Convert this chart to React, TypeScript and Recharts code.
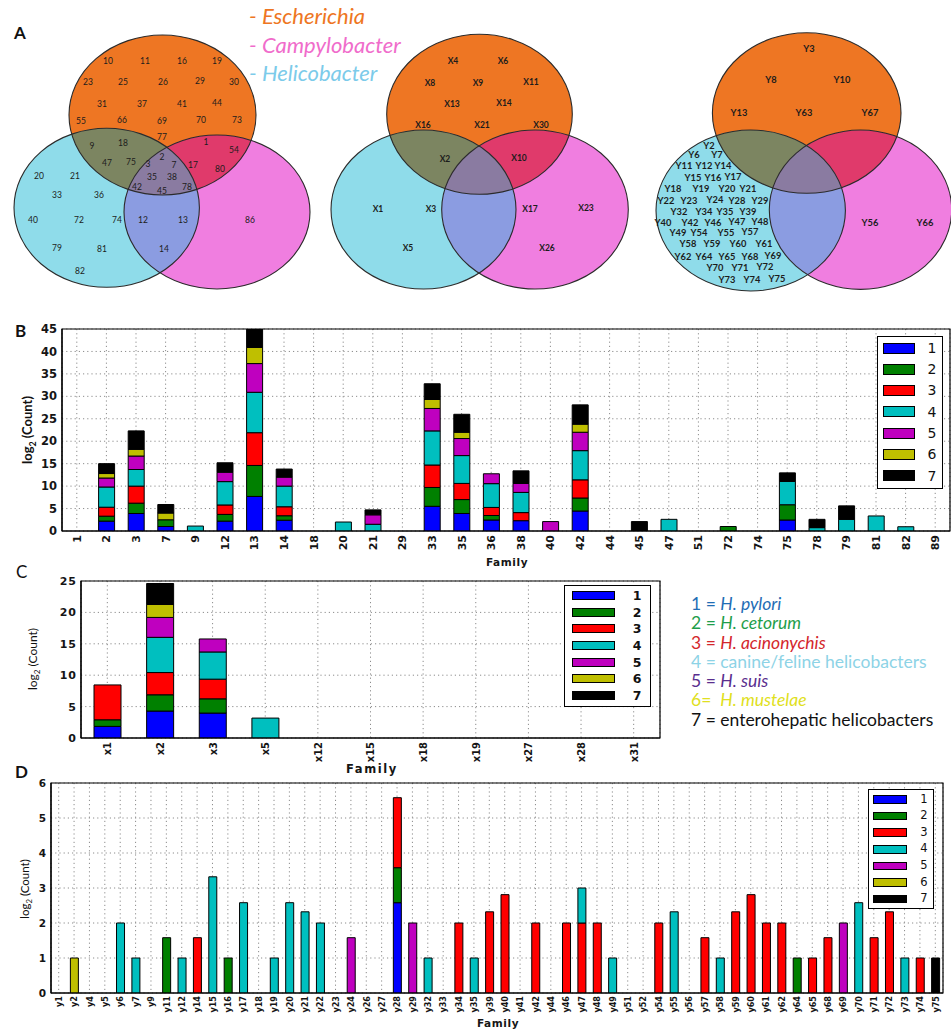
import React from 'react';
import { BarChart, Bar, XAxis, YAxis, CartesianGrid, ReferenceArea, ScatterChart, Scatter } from 'recharts';

// ---------------- shared series ----------------
const seriesNames = ['1', '2', '3', '4', '5', '6', '7'];
const seriesColors = ['#0000FF', '#008000', '#FF0000', '#00BFBF', '#BF00BF', '#BFBF00', '#000000'];

// ---------------- Panel B ----------------
const familiesB = ['1', '2', '3', '7', '9', '12', '13', '14', '18', '20', '21', '29', '33', '35', '36', '38', '40', '42', '44', '45', '47', '51', '72', '74', '75', '78', '79', '81', '82', '89'];
const b1 = [0, 2.2, 3.9, 1.0, 0, 2.2, 7.7, 2.4, 0, 0,
  0, 0, 5.5, 3.9, 2.45, 2.3, 0, 4.45, 0, 0,
  0, 0, 0, 0, 2.45, 0, 0, 0, 0, 0];
const b2 = [0, 1.1, 2.3, 1.5, 0, 1.5, 6.9, 1.0, 0, 0,
  0, 0, 4.2, 3.1, 1.0, 0, 0, 2.9, 0, 0,
  0, 0, 1.0, 0, 3.4, 0, 0, 0, 0, 0];
const b3 = [0, 2.0, 3.8, 0, 0, 2.1, 7.3, 2.0, 0, 0,
  0, 0, 5.0, 3.6, 1.8, 1.8, 0, 4.05, 0, 0,
  0, 0, 0, 0, 0, 0, 0, 0, 0, 0];
const b4 = [0, 4.5, 3.7, 0, 1.1, 5.2, 9.0, 4.6, 0, 2.0,
  1.5, 0, 7.6, 6.2, 5.3, 4.5, 0, 6.5, 0, 0,
  2.6, 0, 0, 0, 5.2, 0.75, 2.6, 3.35, 0.95, 0];
const b5 = [0, 2.0, 3.0, 0, 0, 2.1, 6.4, 2.0, 0, 0,
  2.1, 0, 5.0, 3.8, 2.2, 2.0, 2.1, 4.1, 0, 0,
  0, 0, 0, 0, 0, 0, 0, 0, 0, 0];
const b6 = [0, 1.0, 1.5, 1.5, 0, 0, 3.6, 0, 0, 0,
  0, 0, 2.0, 1.4, 0, 0, 0, 1.8, 0, 0,
  0, 0, 0, 0, 0, 0, 0, 0, 0, 0];
const b7 = [0, 2.2, 4.1, 1.9, 0, 2.1, 4.1, 1.8, 0, 0,
  1.1, 0, 3.5, 4.0, 0, 2.8, 0, 4.3, 0, 2.1,
  0, 0, 0, 0, 1.9, 1.85, 3.0, 0, 0, 0];
const ticksB = [0, 5, 10, 15, 20, 25, 30, 35, 40, 45];

// ---------------- Panel C ----------------
const familiesC = ['x1', 'x2', 'x3', 'x5', 'x12', 'x15', 'x18', 'x19', 'x27', 'x28', 'x31'];
const c1 = [1.85, 4.29, 3.97, 0, 0, 0, 0, 0, 0, 0, 0];
const c2 = [1.05, 2.59, 2.27, 0, 0, 0, 0, 0, 0, 0, 0];
const c3 = [5.55, 3.54, 3.13, 0, 0, 0, 0, 0, 0, 0, 0];
const c4 = [0, 5.61, 4.33, 3.17, 0, 0, 0, 0, 0, 0, 0];
const c5 = [0, 3.17, 2.07, 0, 0, 0, 0, 0, 0, 0, 0];
const c6 = [0, 2.07, 0, 0, 0, 0, 0, 0, 0, 0, 0];
const c7 = [0, 3.33, 0, 0, 0, 0, 0, 0, 0, 0, 0];
const ticksC = [0, 5, 10, 15, 20, 25];

// ---------------- Panel D ----------------
const familiesD = ['y1', 'y2', 'y4', 'y5', 'y6', 'y7', 'y9', 'y11', 'y12', 'y14',
  'y15', 'y16', 'y17', 'y18', 'y19', 'y20', 'y21', 'y22', 'y23', 'y24',
  'y26', 'y27', 'y28', 'y29', 'y32', 'y33', 'y34', 'y35', 'y39', 'y40',
  'y41', 'y42', 'y44', 'y46', 'y47', 'y48', 'y49', 'y51', 'y52', 'y54',
  'y55', 'y56', 'y57', 'y58', 'y59', 'y60', 'y61', 'y62', 'y64', 'y65',
  'y68', 'y69', 'y70', 'y71', 'y72', 'y73', 'y74', 'y75'];
const d1 = [0, 0, 0, 0, 0, 0, 0, 0, 0, 0,
  0, 0, 0, 0, 0, 0, 0, 0, 0, 0,
  0, 0, 2.58, 0, 0, 0, 0, 0, 0, 0,
  0, 0, 0, 0, 0, 0, 0, 0, 0, 0,
  0, 0, 0, 0, 0, 0, 0, 0, 0, 0,
  0, 0, 0, 0, 0, 0, 0, 0];
const d2 = [0, 0, 0, 0, 0, 0, 0, 1.58, 0, 0,
  0, 1, 0, 0, 0, 0, 0, 0, 0, 0,
  0, 0, 1, 0, 0, 0, 0, 0, 0, 0,
  0, 0, 0, 0, 0, 0, 0, 0, 0, 0,
  0, 0, 0, 0, 0, 0, 0, 0, 1, 0,
  0, 0, 0, 0, 0, 0, 0, 0];
const d3 = [0, 0, 0, 0, 0, 0, 0, 0, 0, 1.58,
  0, 0, 0, 0, 0, 0, 0, 0, 0, 0,
  0, 0, 2, 0, 0, 0, 2, 0, 2.32, 2.81,
  0, 2, 0, 2, 2, 2, 0, 0, 0, 2,
  0, 0, 1.58, 0, 2.32, 2.81, 2, 2, 0, 1,
  1.58, 0, 0, 1.58, 2.32, 0, 1, 0];
const d4 = [0, 0, 0, 0, 2, 1, 0, 0, 1, 0,
  3.32, 0, 2.58, 0, 1, 2.58, 2.32, 2, 0, 0,
  0, 0, 0, 0, 1, 0, 0, 1, 0, 0,
  0, 0, 0, 0, 1, 0, 1, 0, 0, 0,
  2.32, 0, 0, 1, 0, 0, 0, 0, 0, 0,
  0, 0, 2.58, 0, 0, 1, 0, 0];
const d5 = [0, 0, 0, 0, 0, 0, 0, 0, 0, 0,
  0, 0, 0, 0, 0, 0, 0, 0, 0, 1.58,
  0, 0, 0, 2, 0, 0, 0, 0, 0, 0,
  0, 0, 0, 0, 0, 0, 0, 0, 0, 0,
  0, 0, 0, 0, 0, 0, 0, 0, 0, 0,
  0, 2, 0, 0, 0, 0, 0, 0];
const d6 = [0, 1, 0, 0, 0, 0, 0, 0, 0, 0,
  0, 0, 0, 0, 0, 0, 0, 0, 0, 0,
  0, 0, 0, 0, 0, 0, 0, 0, 0, 0,
  0, 0, 0, 0, 0, 0, 0, 0, 0, 0,
  0, 0, 0, 0, 0, 0, 0, 0, 0, 0,
  0, 0, 0, 0, 0, 0, 0, 0];
const d7 = [0, 0, 0, 0, 0, 0, 0, 0, 0, 0,
  0, 0, 0, 0, 0, 0, 0, 0, 0, 0,
  0, 0, 0, 0, 0, 0, 0, 0, 0, 0,
  0, 0, 0, 0, 0, 0, 0, 0, 0, 0,
  0, 0, 0, 0, 0, 0, 0, 0, 0, 0,
  0, 0, 0, 0, 0, 0, 0, 1];
const ticksD = [0, 1, 2, 3, 4, 5, 6];

// ---------------- Panel A (Venn) ----------------
const vennSetNames = ['Escherichia', 'Campylobacter', 'Helicobacter'];
const vennSetColors: Record<string, string> = { E: '#EE7623', H: '#8FDCEA', C: '#F07EE0' };
const vennOverlapColors = { EH: '#7C8561', EC: '#E03A6B', HC: '#8B9CE1', EHC: '#8A7BA1' };
const vennLegendColors = ['#EE7623', '#F06CCB', '#7CCBEA'];

// Venn layout (chart units == pixels of the 951x300 panel)
const vennEllipseLayout = [
  { venn: 1, set: 'E', x: 162.5, y: 115, rx: 93.5, ry: 80 },
  { venn: 1, set: 'H', x: 106.7, y: 207.8, rx: 92.7, ry: 79.5 },
  { venn: 1, set: 'C', x: 217, y: 212, rx: 93, ry: 77 },
  { venn: 2, set: 'E', x: 479.5, y: 114.3, rx: 92.8, ry: 80 },
  { venn: 2, set: 'H', x: 423.5, y: 209.5, rx: 92.5, ry: 79.5 },
  { venn: 2, set: 'C', x: 535, y: 209.5, rx: 93.3, ry: 79.5 },
  { venn: 3, set: 'E', x: 806.7, y: 113, rx: 94.3, ry: 80.3 },
  { venn: 3, set: 'H', x: 750.7, y: 210.5, rx: 94.7, ry: 80.5 },
  { venn: 3, set: 'C', x: 860.5, y: 209.7, rx: 91.2, ry: 79.7 },
];

const venn1Labels: [string, number, number][] = [
  ['10', 108, 61], ['11', 145, 61], ['16', 182, 61], ['19', 217, 61],
  ['23', 88, 82], ['25', 123, 82], ['26', 163, 82], ['29', 200, 81], ['30', 234, 82],
  ['31', 102, 104], ['37', 142, 104], ['41', 182, 104], ['44', 217, 103],
  ['55', 81, 121], ['66', 122, 120], ['69', 162, 121], ['70', 201, 120], ['73', 237, 120],
  ['77', 162, 137],
  ['1', 206, 142], ['54', 234, 150], ['17', 193, 165], ['80', 220, 169],
  ['9', 92, 146], ['18', 123, 143], ['47', 107, 163], ['75', 131, 162],
  ['2', 162, 157], ['3', 148, 164], ['7', 174, 165], ['35', 152, 177], ['38', 172, 177],
  ['42', 137, 187], ['45', 162, 191], ['78', 187, 187],
  ['20', 39, 176], ['21', 75, 176], ['33', 57, 195], ['36', 99, 195], ['40', 33, 220],
  ['72', 79, 220], ['74', 117, 220], ['79', 57, 248], ['81', 102, 249], ['82', 80, 271],
  ['12', 143, 220], ['13', 183, 220], ['14', 164, 249],
  ['86', 250, 220],
];
const venn2Labels: [string, number, number][] = [
  ['X4', 453, 61], ['X6', 503, 61], ['X8', 430, 83], ['X9', 478, 83], ['X11', 531, 82],
  ['X13', 452, 104], ['X14', 504, 103], ['X16', 423, 125], ['X21', 482, 125], ['X30', 541, 125],
  ['X2', 445, 159], ['X10', 519, 158],
  ['X1', 378, 209], ['X3', 431, 209], ['X5', 408, 248],
  ['X17', 530, 209], ['X23', 586, 208], ['X26', 547, 248],
];
const venn3Labels: [string, number, number][] = [
  ['Y3', 809, 48], ['Y8', 771, 79], ['Y10', 842, 79], ['Y13', 739, 112], ['Y63', 804, 112], ['Y67', 870, 112],
  ['Y56', 870, 222], ['Y66', 925, 222],
  ['Y2', 709, 145],
  ['Y6', 694, 154], ['Y7', 717, 154],
  ['Y11', 684, 165], ['Y12', 704, 165], ['Y14', 723, 165],
  ['Y15', 693, 177], ['Y16', 713, 177], ['Y17', 733, 176],
  ['Y18', 673, 188], ['Y19', 701, 188], ['Y20', 727, 188], ['Y21', 748, 188],
  ['Y22', 666, 200], ['Y23', 689, 200], ['Y24', 715, 199], ['Y28', 737, 200], ['Y29', 760, 200],
  ['Y32', 679, 211], ['Y34', 704, 211], ['Y35', 725, 211], ['Y39', 748, 211],
  ['Y40', 663, 222], ['Y42', 690, 222], ['Y46', 713, 222], ['Y47', 737, 221], ['Y48', 760, 221],
  ['Y49', 678, 232], ['Y54', 699, 232], ['Y55', 726, 232], ['Y57', 750, 231],
  ['Y58', 688, 243], ['Y59', 712, 243], ['Y60', 738, 243], ['Y61', 764, 243],
  ['Y62', 683, 256], ['Y64', 704, 256], ['Y65', 727, 256], ['Y68', 750, 256], ['Y69', 773, 255],
  ['Y70', 715, 267], ['Y71', 740, 267], ['Y72', 765, 266],
  ['Y73', 727, 279], ['Y74', 752, 279], ['Y75', 777, 278],
];

// species key (panel C)
const speciesKey = [
  { num: '1 = ', name: 'H. pylori', italic: true, color: '#1F6DB5' },
  { num: '2 = ', name: 'H. cetorum', italic: true, color: '#1E9E4A' },
  { num: '3 = ', name: 'H. acinonychis', italic: true, color: '#D4262C' },
  { num: '4 = ', name: 'canine/feline helicobacters', italic: false, color: '#8DD3E6' },
  { num: '5 = ', name: 'H. suis', italic: true, color: '#5A2E8E' },
  { num: '6=  ', name: 'H. mustelae', italic: true, color: '#E0E020' },
  { num: '7 = ', name: 'enterohepatic helicobacters', italic: false, color: '#111111' },
];

// ---------------- helpers ----------------
function buildRows(cats: string[], series: number[][]) {
  return cats.map((c, i) => {
    const r: any = { family: c };
    series.forEach((s, k) => { r['s' + (k + 1)] = s[i]; });
    return r;
  });
}
const rowsB = buildRows(familiesB, [b1, b2, b3, b4, b5, b6, b7]);
const rowsC = buildRows(familiesC, [c1, c2, c3, c4, c5, c6, c7]);
const rowsD = buildRows(familiesD, [d1, d2, d3, d4, d5, d6, d7]);

const VENN_W = 951;
const VENN_H = 300;
const KX = VENN_W / 951;
const KY = VENN_H / 300;

const vennLabelStyle: Record<number, any> = {
  1: { fontSize: 8.5, fontWeight: 'normal' },
  2: { fontSize: 8.5, fontWeight: 'bold' },
  3: { fontSize: 9.3, fontWeight: 'bold' },
};
const vennLabelData = [
  ...venn1Labels.map(([t, x, y]) => ({ t, x, y, venn: 1 })),
  ...venn2Labels.map(([t, x, y]) => ({ t, x, y, venn: 2 })),
  ...venn3Labels.map(([t, x, y]) => ({ t, x, y, venn: 3 })),
];

function findEll(v: number, s: string) {
  return vennEllipseLayout.find((e) => e.venn === v && e.set === s) as any;
}
const vennOverlapData: any[] = [];
[1, 2, 3].forEach((v) => {
  const h = findEll(v, 'H');
  const c = findEll(v, 'C');
  vennOverlapData.push({ ...h, clips: ['E' + v], color: vennOverlapColors.EH });
  vennOverlapData.push({ ...c, clips: ['E' + v], color: vennOverlapColors.EC });
  vennOverlapData.push({ ...c, clips: ['H' + v], color: vennOverlapColors.HC });
  vennOverlapData.push({ ...c, clips: ['E' + v, 'H' + v], color: vennOverlapColors.EHC });
});

const EllipseFill = (p: any) => {
  const d = p.payload;
  const id = `vclip-${d.set}${d.venn}`;
  return (
    <g>
      <defs>
        <clipPath id={id}>
          <ellipse cx={p.cx} cy={p.cy} rx={d.rx * KX} ry={d.ry * KY} />
        </clipPath>
      </defs>
      <ellipse cx={p.cx} cy={p.cy} rx={d.rx * KX} ry={d.ry * KY} fill={vennSetColors[d.set]} />
    </g>
  );
};
const EllipseOverlap = (p: any) => {
  const d = p.payload;
  const inner = (
    <ellipse cx={p.cx} cy={p.cy} rx={d.rx * KX} ry={d.ry * KY} fill={d.color}
      clipPath={`url(#vclip-${d.clips[d.clips.length - 1]})`} />
  );
  if (d.clips.length > 1) return <g clipPath={`url(#vclip-${d.clips[0]})`}>{inner}</g>;
  return <g>{inner}</g>;
};
const EllipseOutline = (p: any) => {
  const d = p.payload;
  return <ellipse cx={p.cx} cy={p.cy} rx={d.rx * KX} ry={d.ry * KY} fill="none" stroke="#2b2b2b" strokeWidth={1.1} />;
};
const VennLabel = (p: any) => {
  const d = p.payload;
  const st = vennLabelStyle[d.venn];
  return (
    <text x={p.cx} y={p.cy} textAnchor="middle" dominantBaseline="central" fontFamily="Lato"
      fontSize={st.fontSize} fontWeight={st.fontWeight} fill="#1c1c1c">{d.t}</text>
  );
};

const RotTick = (p: any) => {
  const { x, y, payload, fs, condensed } = p;
  return (
    <text x={x} y={y} transform={`rotate(-90 ${x} ${y})`} textAnchor="end" dy="0.36em"
      fontFamily="DejaVu Sans" fontSize={fs} fontWeight="bold" fill="#151515"
      style={condensed ? { fontStretch: 'condensed' } : undefined}>{payload.value}</text>
  );
};

function SwatchLegend(props: any) {
  const { left, top, width, height, firstRow, rowGap, swLeft, swW, swH, labelX, fontSize, fontWeight } = props;
  return (
    <div style={{ position: 'absolute', left, top, width, height, border: '1.5px solid #000', background: '#fff', boxSizing: 'border-box' }}>
      {seriesNames.map((n, i) => (
        <React.Fragment key={n}>
          <div style={{ position: 'absolute', left: swLeft, top: firstRow + i * rowGap - swH / 2, width: swW, height: swH, background: seriesColors[i], border: '1px solid #000', boxSizing: 'border-box' }} />
          <div style={{ position: 'absolute', left: labelX - 10, width: 20, textAlign: 'center', top: firstRow + i * rowGap - fontSize * 0.6, fontSize, lineHeight: `${fontSize * 1.2}px`, fontFamily: 'DejaVu Sans', fontWeight, color: '#111' }}>{n}</div>
        </React.Fragment>
      ))}
    </div>
  );
}

function YTitle({ x, y, fs, weight }: any) {
  return (
    <text transform={`translate(${x},${y}) rotate(-90)`} textAnchor="middle" fontFamily="Lato" fontSize={fs} fontWeight={weight} fill="#111">
      log<tspan fontSize={fs * 0.68} dy={fs * 0.28}>2</tspan><tspan dy={-fs * 0.28}> (Count)</tspan>
    </text>
  );
}

function StackBars() {
  return seriesNames.map((n, k) => (
    <Bar key={n} dataKey={'s' + (k + 1)} name={n} stackId="a" fill={seriesColors[k]} stroke="#000" strokeWidth={1} isAnimationActive={false} />
  ));
}

const gridStroke = '#8c8c8c';

export default function App() {
  return (
    <div style={{ position: 'absolute', left: 0, top: 0, width: 951, height: 1030, background: '#fff', overflow: 'hidden' }}>
      {/* Panel A: Venn diagrams */}
      <div style={{ position: 'absolute', left: 0, top: 0 }}>
        <ScatterChart width={VENN_W} height={VENN_H} margin={{ top: 0, right: 0, bottom: 0, left: 0 }}>
          <XAxis type="number" dataKey="x" domain={[0, 951]} hide height={0} allowDataOverflow />
          <YAxis type="number" dataKey="y" domain={[0, 300]} reversed hide width={0} allowDataOverflow />
          <Scatter data={vennEllipseLayout} shape={EllipseFill} isAnimationActive={false} />
          <Scatter data={vennOverlapData} shape={EllipseOverlap} isAnimationActive={false} />
          <Scatter data={vennEllipseLayout} shape={EllipseOutline} isAnimationActive={false} />
          <Scatter data={vennLabelData} shape={VennLabel} isAnimationActive={false} />
        </ScatterChart>
      </div>

      {/* Panel B */}
      <div style={{ position: 'absolute', left: 0, top: 300 }}>
        <BarChart width={951} height={270} data={rowsB} margin={{ top: 29, right: 1, bottom: 11, left: 22 }} barSize={16}>
          <CartesianGrid stroke={gridStroke} strokeDasharray="1.2 3" />
          <XAxis dataKey="family" interval={0} height={28} tickSize={0} tickMargin={4} axisLine={{ stroke: '#000', strokeWidth: 1.2 }} tickLine={false}
            tick={(p: any) => <RotTick {...p} fs={11} />} />
          <YAxis domain={[0, 45]} ticks={ticksB} interval={0} width={40} tickSize={0} tickMargin={5} axisLine={{ stroke: '#000', strokeWidth: 1.2 }} tickLine={false}
            tick={{ fontSize: 11.5, fontFamily: 'DejaVu Sans', fontWeight: 'bold', fill: '#151515' }} allowDataOverflow />
          {StackBars()}
          <ReferenceArea y1={0} y2={45} fill="none" stroke="#000" strokeWidth={1.2} ifOverflow="visible" />
        </BarChart>
      </div>
      <SwatchLegend left={877} top={336} width={66} height={153} firstRow={11} rowGap={21.33} swLeft={5} swW={32} swH={11} labelX={54} fontSize={14} fontWeight="normal" />

      {/* Panel C */}
      <div style={{ position: 'absolute', left: 0, top: 560 }}>
        <BarChart width={662} height={210} data={rowsC} margin={{ top: 21, right: 2, bottom: 2, left: 41 }} barSize={27}>
          <CartesianGrid stroke={gridStroke} strokeDasharray="1.2 3" />
          <XAxis dataKey="family" interval={0} height={30} tickSize={0} tickMargin={4} axisLine={{ stroke: '#000', strokeWidth: 1.2 }} tickLine={false}
            tick={(p: any) => <RotTick {...p} fs={11} condensed />} />
          <YAxis domain={[0, 25]} ticks={ticksC} interval={0} width={40} tickSize={0} tickMargin={4} axisLine={{ stroke: '#000', strokeWidth: 1.2 }} tickLine={false}
            tick={{ fontSize: 11, fontFamily: 'DejaVu Sans', fontWeight: 'bold', fill: '#151515', letterSpacing: 1 }} allowDataOverflow />
          {StackBars()}
          <ReferenceArea y1={0} y2={25} fill="none" stroke="#000" strokeWidth={1.2} ifOverflow="visible" />
        </BarChart>
      </div>
      <SwatchLegend left={564} top={585} width={87} height={122} firstRow={9.5} rowGap={16.67} swLeft={7} swW={43} swH={9} labelX={72} fontSize={12.5} fontWeight="bold" />
      <div style={{ position: 'absolute', left: 691, top: 594, fontFamily: 'Lato', fontSize: 17.5, lineHeight: '19.3px', whiteSpace: 'nowrap' }}>
        {speciesKey.map((s) => (
          <div key={s.num} style={{ color: s.color }}>
            <span style={{ whiteSpace: 'pre' }}>{s.num}</span>
            <span style={{ fontStyle: s.italic ? 'italic' : 'normal' }}>{s.name}</span>
          </div>
        ))}
      </div>

      {/* Panel D */}
      <div style={{ position: 'absolute', left: 0, top: 770 }}>
        <BarChart width={951} height={260} data={rowsD} margin={{ top: 13, right: 8, bottom: 11, left: 15 }} barSize={8}>
          <CartesianGrid stroke={gridStroke} strokeDasharray="1.2 3" />
          <XAxis dataKey="family" interval={0} height={26} tickSize={0} tickMargin={3} axisLine={{ stroke: '#000', strokeWidth: 1.2 }} tickLine={false}
            tick={(p: any) => <RotTick {...p} fs={9} condensed />} />
          <YAxis domain={[0, 6]} ticks={ticksD} interval={0} width={36} tickSize={0} tickMargin={5} axisLine={{ stroke: '#000', strokeWidth: 1.2 }} tickLine={false}
            tick={{ fontSize: 10.5, fontFamily: 'DejaVu Sans', fontWeight: 'bold', fill: '#151515' }} allowDataOverflow />
          {StackBars()}
          <ReferenceArea y1={0} y2={6} fill="none" stroke="#000" strokeWidth={1.2} ifOverflow="visible" />
        </BarChart>
      </div>
      <SwatchLegend left={868} top={789} width={66} height={120} firstRow={9.5} rowGap={16.6} swLeft={4} swW={34} swH={8.5} labelX={55} fontSize={11.5} fontWeight="normal" />

      {/* Panel A legend text */}
      <div style={{ position: 'absolute', left: 249, top: 2, fontFamily: 'Lato', fontStyle: 'italic', fontSize: 22, lineHeight: '28.5px', whiteSpace: 'nowrap' }}>
        {vennSetNames.map((n, i) => (
          <div key={n} style={{ color: vennLegendColors[i] }}>- {n}</div>
        ))}
      </div>

      {/* titles overlay */}
      <svg width={951} height={1030} style={{ position: 'absolute', left: 0, top: 0, pointerEvents: 'none' }}>
        <text x={14} y={39} fontFamily="Lato" fontWeight="bold" fontSize={17} fill="#111">A</text>
        <text x={15} y={337} fontFamily="Lato" fontWeight="bold" fontSize={17} fill="#111">B</text>
        <text x={16} y={578} fontFamily="Lato" fontSize={17} fill="#111">C</text>
        <text x={15} y={778} fontFamily="Lato" fontWeight="bold" fontSize={17} fill="#111">D</text>
        <YTitle x={32} y={430} fs={13} weight="bold" />
        <YTitle x={37} y={659} fs={12} weight="normal" />
        <YTitle x={29} y={889} fs={11.5} weight="normal" />
        <text x={507} y={566} textAnchor="middle" fontFamily="DejaVu Sans" fontWeight="bold" fontSize={10.5} letterSpacing={0.6} fill="#151515">Family</text>
        <text x={372} y={773} textAnchor="middle" fontFamily="DejaVu Sans" fontWeight="bold" fontSize={11.5} letterSpacing={1.6} fill="#151515">Family</text>
        <text x={498} y={1027} textAnchor="middle" fontFamily="DejaVu Sans" fontWeight="bold" fontSize={10.5} letterSpacing={0.6} fill="#151515">Family</text>
      </svg>
    </div>
  );
}
